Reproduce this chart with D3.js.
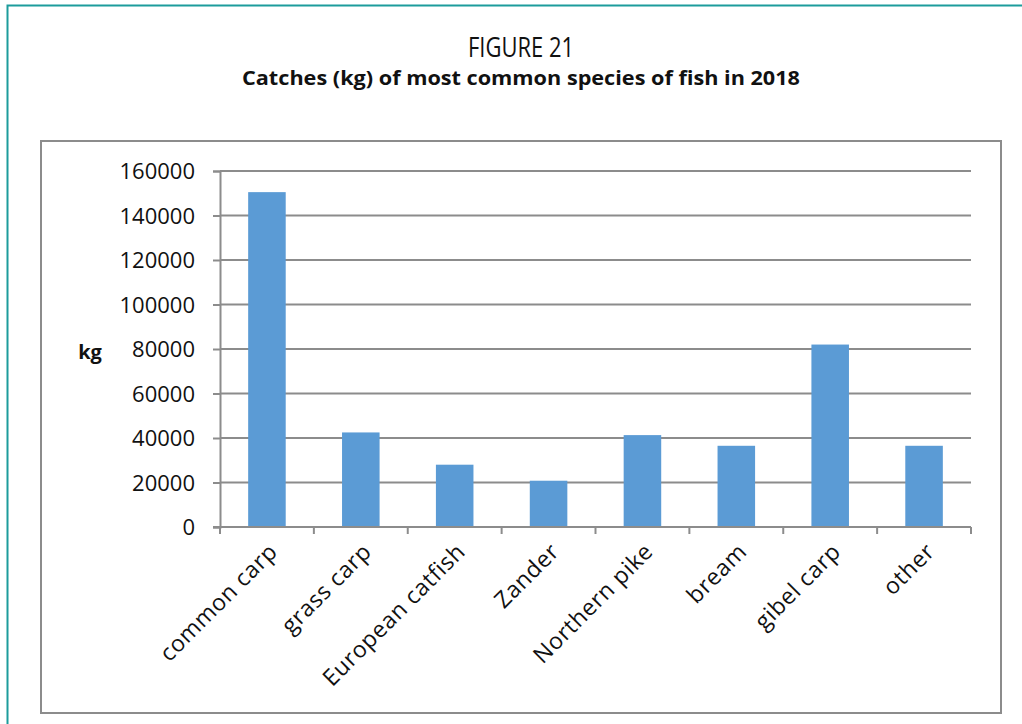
<!DOCTYPE html>
<head>
    <meta charset="utf-8">
    <script src="https://d3js.org/d3.v7.min.js"></script>
    <style>
        body { margin:0; background:#fff; }
        svg text { font-family: "Open Sans", sans-serif; fill:#111; }
    </style>
</head>
<body>
    <svg id="svgelem" width="1022" height="724"></svg>

    <script>
        // Data
        var species = ["common carp", "grass carp", "European catfish", "Zander",
                       "Northern pike", "bream", "gibel carp", "other"];
        var catches = [150500, 42500, 28000, 20800, 41300, 36500, 82000, 36500];
        var yTicks = [0, 20000, 40000, 60000, 80000, 100000, 120000, 140000, 160000];

        var svg = d3.select("#svgelem");

        // teal page frame (top + left)
        svg.append("path")
            .attr("d", "M7.5,724 L7.5,5.5 L1022,5.5")
            .attr("fill", "none")
            .attr("stroke", "#1c9c9c")
            .attr("stroke-width", 2);

        // titles
        svg.append("text")
            .attr("x", 521).attr("y", 57)
            .attr("text-anchor", "middle")
            .style("font-size", "27px")
            .attr("textLength", 106).attr("lengthAdjust", "spacingAndGlyphs")
            .text("FIGURE 21");
        svg.append("text")
            .attr("x", 521).attr("y", 85)
            .attr("text-anchor", "middle")
            .style("font-size", "19px").style("font-weight", "bold")
            .attr("textLength", 558).attr("lengthAdjust", "spacingAndGlyphs")
            .text("Catches (kg) of most common species of fish in 2018");

        // chart frame
        svg.append("rect")
            .attr("x", 41).attr("y", 141)
            .attr("width", 960).attr("height", 572)
            .attr("fill", "none")
            .attr("stroke", "#8c8c8c")
            .attr("stroke-width", 2);

        var plotL = 220, plotR = 971, plotT = 171, plotB = 527;

        var x = d3.scaleBand().domain(species).range([plotL, plotR])
            .paddingInner(0.6).paddingOuter(0.3);
        var xSlot = d3.scaleBand().domain(species).range([plotL, plotR]);
        var y = d3.scaleLinear().domain([0, 160000]).range([plotB, plotT]);

        // gridlines
        svg.append("g").selectAll("line")
            .data(yTicks.slice(1))
            .enter().append("line")
            .attr("x1", plotL).attr("x2", plotR)
            .attr("y1", function(d) { return y(d); })
            .attr("y2", function(d) { return y(d); })
            .attr("stroke", "#8c8c8c")
            .attr("stroke-width", 2);

        // y axis
        var yAxis = d3.axisLeft(y).tickValues(yTicks).tickSize(7).tickPadding(18)
            .tickFormat(d3.format("d"));
        var gy = svg.append("g").attr("transform", "translate(" + plotL + ",0)").call(yAxis);
        gy.select(".domain").attr("stroke", "#8c8c8c").attr("stroke-width", 2);
        gy.selectAll(".tick line").attr("stroke", "#8c8c8c").attr("stroke-width", 2);
        gy.selectAll(".tick text")
            .style("font-size", "22px")
            .attr("fill", "#111")
            .attr("dy", "0.36em");
        gy.attr("font-family", null).attr("font-size", null);

        // bars
        svg.append("g").selectAll("rect")
            .data(catches)
            .enter().append("rect")
            .attr("x", function(d, i) { return x(species[i]); })
            .attr("width", x.bandwidth())
            .attr("y", function(d) { return y(d); })
            .attr("height", function(d) { return plotB - y(d); })
            .attr("fill", "#5b9bd5");

        // x axis line + ticks at category boundaries
        var gx = svg.append("g");
        gx.append("line")
            .attr("x1", plotL - 7).attr("x2", plotR)
            .attr("y1", plotB).attr("y2", plotB)
            .attr("stroke", "#8c8c8c").attr("stroke-width", 2);
        var bounds = species.map(function(s) { return xSlot(s); }).concat([plotR]);
        gx.selectAll(".xt")
            .data(bounds)
            .enter().append("line")
            .attr("class", "xt")
            .attr("x1", function(d) { return d; })
            .attr("x2", function(d) { return d; })
            .attr("y1", plotB).attr("y2", plotB + 7)
            .attr("stroke", "#8c8c8c").attr("stroke-width", 2);

        // rotated category labels
        gx.selectAll(".xl")
            .data(species)
            .enter().append("text")
            .attr("class", "xl")
            .attr("text-anchor", "end")
            .style("font-size", "23px")
            .style("letter-spacing", "0.6px")
            .attr("transform", function(d) {
                var cx = xSlot(d) + xSlot.bandwidth() / 2 + 12;
                return "translate(" + cx + "," + (plotB + 26) + ") rotate(-45)";
            })
            .text(function(d) { return d; });

        // y axis label
        svg.append("text")
            .attr("x", 90).attr("y", 359)
            .attr("text-anchor", "middle")
            .style("font-size", "20px").style("font-weight", "bold")
            .text("kg");
    </script>
</body>
